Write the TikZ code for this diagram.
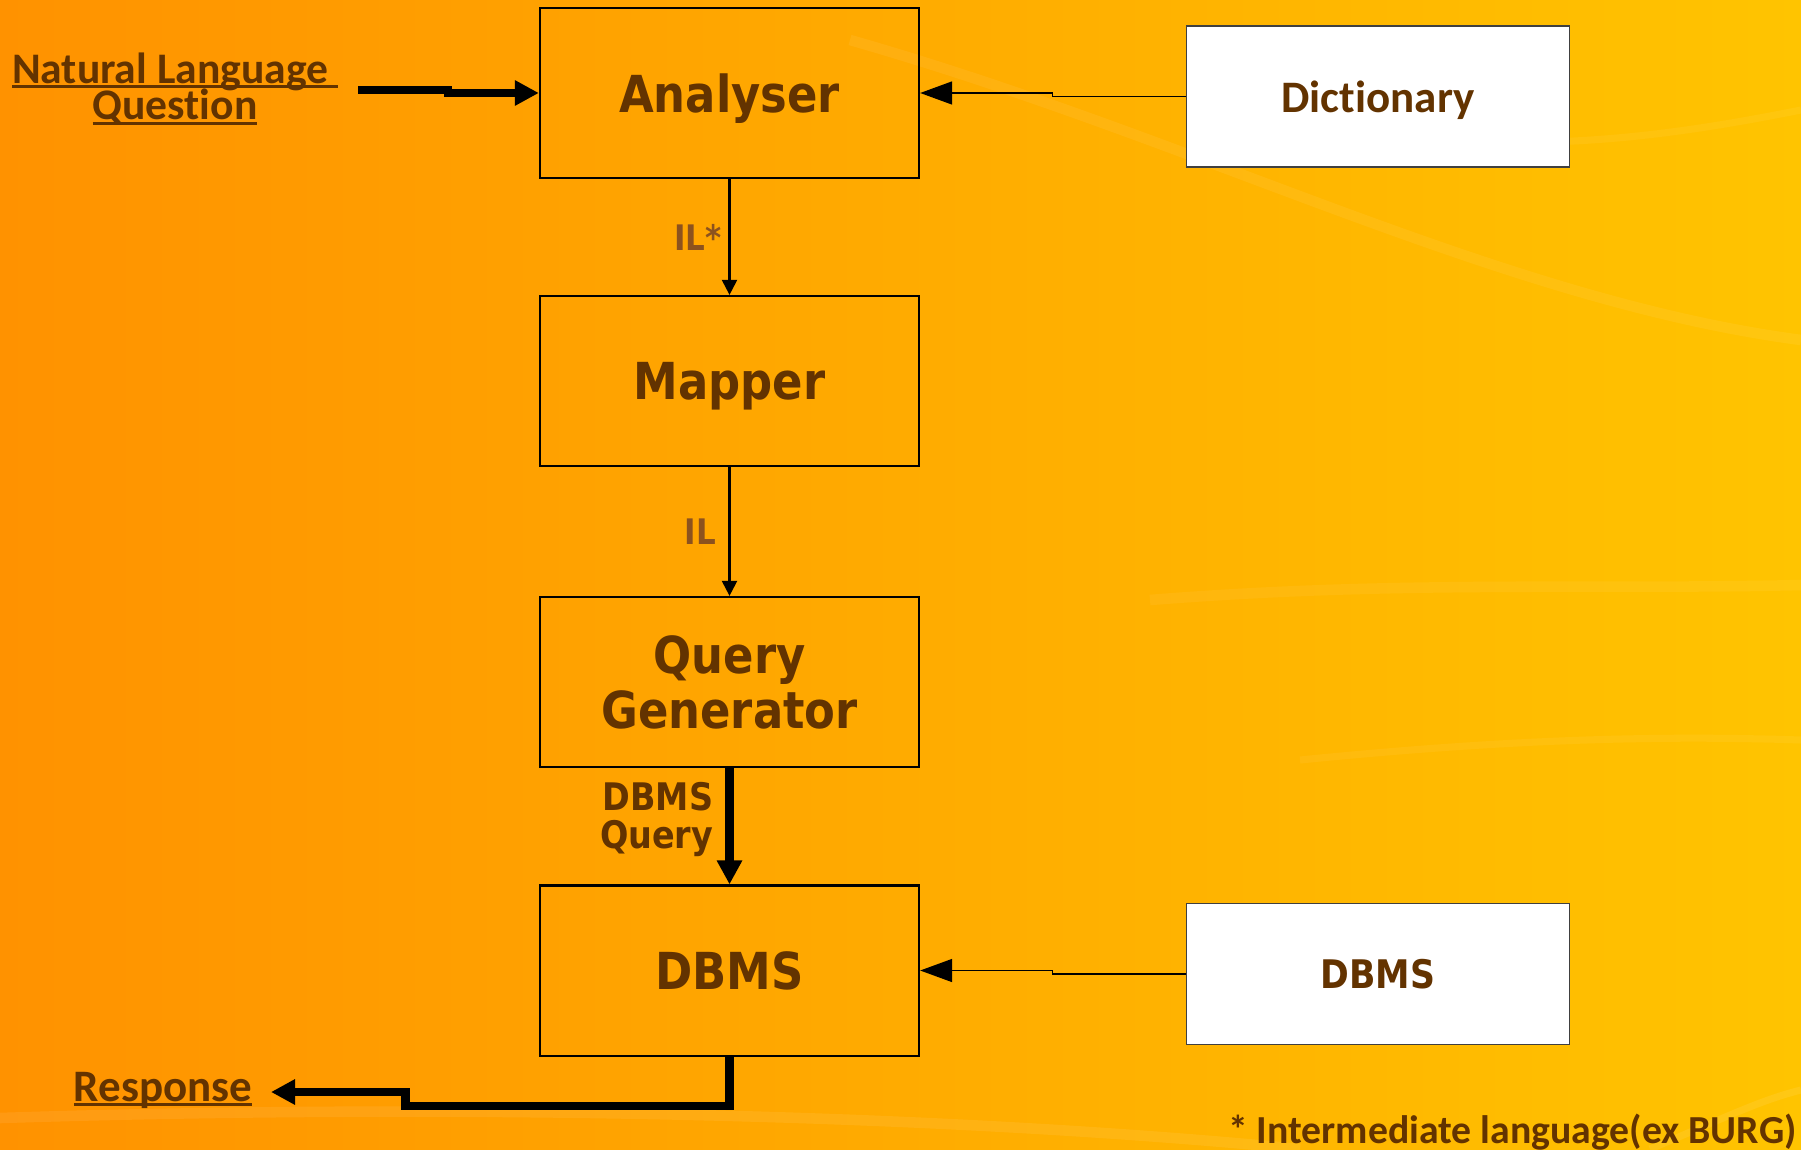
\documentclass[tikz,border=0pt]{standalone}
\usepackage{fontspec}
\usepackage{tikz}
\usetikzlibrary{arrows.meta}
\newfontfamily\boxfont[FakeStretch=0.88]{DejaVu Sans}
\newfontfamily\notefont[Ligatures=NoCommon]{Carlito}
\definecolor{slidebrown}{RGB}{99,51,0}
\definecolor{labelbrown}{RGB}{140,82,30}
\definecolor{slideorange}{RGB}{255,146,0}
\definecolor{slideyellow}{RGB}{255,196,0}
% underline sitting just under the baseline
\newcommand\slideul[1]{\setbox0\hbox{#1}\rlap{\rule[-1.4pt]{\wd0}{0.8pt}}\box0}

\begin{document}
\begin{tikzpicture}[x=0.01cm,y=-0.01cm,line join=miter,
  stage/.style={draw=black,line width=0.6pt,minimum width=3.79cm,minimum height=1.70cm,
    inner sep=0pt,text=slidebrown,align=center,text depth=0pt,
    font=\boxfont\bfseries\fontsize{14.5}{15.6}\selectfont},
  source/.style={draw=black!75,fill=white,line width=0.45pt,minimum width=3.83cm,
    minimum height=1.41cm,inner sep=0pt,text=slidebrown,text depth=0pt},
  linktext/.style={text=slidebrown,font=\notefont\bfseries\fontsize{12.4}{10.8}\selectfont},
  flowlabel/.style={text=labelbrown,inner sep=2pt,
    font=\boxfont\bfseries\fontsize{10}{11.2}\selectfont},
  thinflow/.style={line width=0.6pt,-{Triangle[length=1.5mm,width=1.5mm]}},
  feedflow/.style={line width=0.45pt,-{Triangle[length=3.2mm,width=2.3mm]}},
  thickflow/.style={line width=2.3pt,-{Triangle[length=2.4mm,width=2.4mm]}}]
 \useasboundingbox (0,0) rectangle (1801,1149);
 % slide background with its faint light streaks
 \shade[left color=slideorange,right color=slideyellow] (0,0) rectangle (1801,1149);
 \draw[white,opacity=.06,line width=3pt] (850,40) .. controls (1200,140) and (1500,300) .. (1801,340);
 \draw[white,opacity=.05,line width=2pt] (1300,120) .. controls (1500,160) and (1650,140) .. (1801,110);
 \draw[white,opacity=.05,line width=3pt] (1150,600) .. controls (1400,580) and (1600,590) .. (1801,585);
 \draw[white,opacity=.05,line width=2pt] (1300,760) .. controls (1500,740) and (1650,735) .. (1801,740);
 \draw[white,opacity=.07,line width=3pt] (0,1118) .. controls (400,1105) and (900,1110) .. (1300,1149);
 \draw[white,opacity=.08,line width=2pt] (1650,1149) .. controls (1720,1120) and (1760,1100) .. (1801,1090);

 % processing stages
 \node[stage] (ana) at (729.5,93) {Analyser};
 \node[stage] (map) at (729.5,381) {Mapper};
 \node[stage] (qgen) at (729.5,682) {Query\\Generator};
 \node[stage] (dbms) at (729.5,970.5) {DBMS};
 \node[source,font=\notefont\bfseries\fontsize{12.8}{14}\selectfont]
  (dict) at (1378,96.5) {Dictionary};
 \node[source,font=\boxfont\bfseries\fontsize{11.2}{12}\selectfont]
  (store) at (1378,974) {DBMS};

 \node[linktext,align=center] (ask) at (175,89)
  {\slideul{Natural Language\ }\\[-1.4pt]\slideul{Question}};
 \node[linktext,font=\notefont\bfseries\fontsize{12.8}{14}\selectfont]
  (reply) at (163,1090) {\slideul{Response}};
 \node[linktext,font=\notefont\bfseries\fontsize{11.3}{12}\selectfont,anchor=base east]
  (note) at (1809,1143) {* Intermediate language(ex BURG)};

 % flow between the stages
 \coordinate (askout) at (358,90);
 \coordinate (replyin) at (271,1092);
 \draw[thickflow] (askout) -- ++(90,0) |- (ana.west);
 \draw[feedflow] (dict.west) -- ++(-133,0) |- (ana.east);
 \draw[feedflow] (store.west) -- ++(-133,0) |- (dbms.east);
 \draw[thinflow] (ana) -- node[flowlabel,left] {IL*} (map);
 \draw[thinflow] (map) -- node[flowlabel,left,xshift=-1.6pt] {IL} (qgen);
 \draw[thickflow] (qgen) -- node[flowlabel,left=1.5pt,yshift=2pt,align=right,text=slidebrown,
   font=\boxfont\bfseries\fontsize{10.8}{10.8}\selectfont] {DBMS\\Query} (dbms);
 \draw[thickflow] (dbms.south) -- ++(0,49) -- ++(-324,0) |- (replyin);
\end{tikzpicture}
\end{document}
